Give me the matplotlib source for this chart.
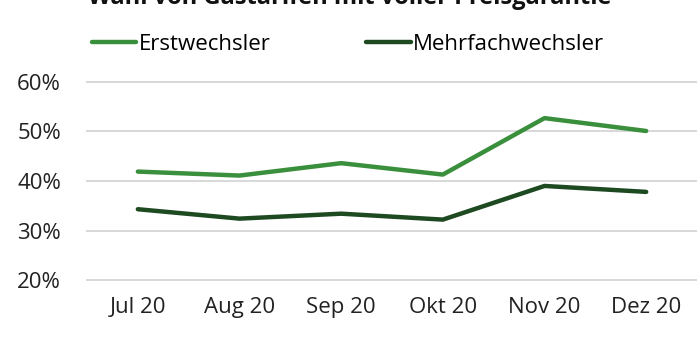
import matplotlib
matplotlib.use("Agg")
import matplotlib.pyplot as plt
from matplotlib.ticker import FuncFormatter

plt.rcParams['font.family'] = ['Open Sans', 'DejaVu Sans']

months = ["Jul 20", "Aug 20", "Sep 20", "Okt 20", "Nov 20", "Dez 20"]
erstwechsler = [41.9, 41.1, 43.6, 41.3, 52.7, 50.1]
mehrfachwechsler = [34.3, 32.4, 33.4, 32.2, 39.0, 37.8]
title = "Wahl von Gastarifen mit voller Preisgarantie"

green = "#3a8f3c"
dark_green = "#1e4a21"

fig = plt.figure(figsize=(7, 3.4), dpi=100)
ax = fig.add_axes([86 / 700, 58 / 340, 611 / 700, 202 / 340])

x = range(len(months))
ax.plot(x, erstwechsler, color=green, lw=3.2, solid_capstyle='round',
        solid_joinstyle='round', label="Erstwechsler")
ax.plot(x, mehrfachwechsler, color=dark_green, lw=3.2, solid_capstyle='round',
        solid_joinstyle='round', label="Mehrfachwechsler")

ax.set_xlim(-0.51, 5.5)
ax.set_ylim(19.6, 60.4)
ax.set_yticks([20, 30, 40, 50, 60])
ax.yaxis.set_major_formatter(FuncFormatter(lambda v, p: f"{v:.0f}%"))
ax.set_xticks(list(x))
ax.set_xticklabels(months)
ax.grid(axis='y', color='#d6d6d6', lw=1.3)
ax.set_axisbelow(True)
for s in ax.spines.values():
    s.set_visible(False)
ax.tick_params(length=0, labelsize=16, colors='#222222')
ax.tick_params(axis='y', pad=18)
ax.tick_params(axis='x', pad=11)

fig.legend(loc='center left', bbox_to_anchor=(92 / 700, 1 - 44 / 340), ncol=2,
           frameon=False, fontsize=16, handlelength=2.0, handletextpad=0.1,
           columnspacing=4.3, borderaxespad=0, borderpad=0)

fig.text(0.5, 1 - 4 / 340, title, ha='center', va='baseline',
         fontsize=17, fontweight='bold', color='#111111')

fig.savefig("out.png", dpi=100, facecolor='white')
